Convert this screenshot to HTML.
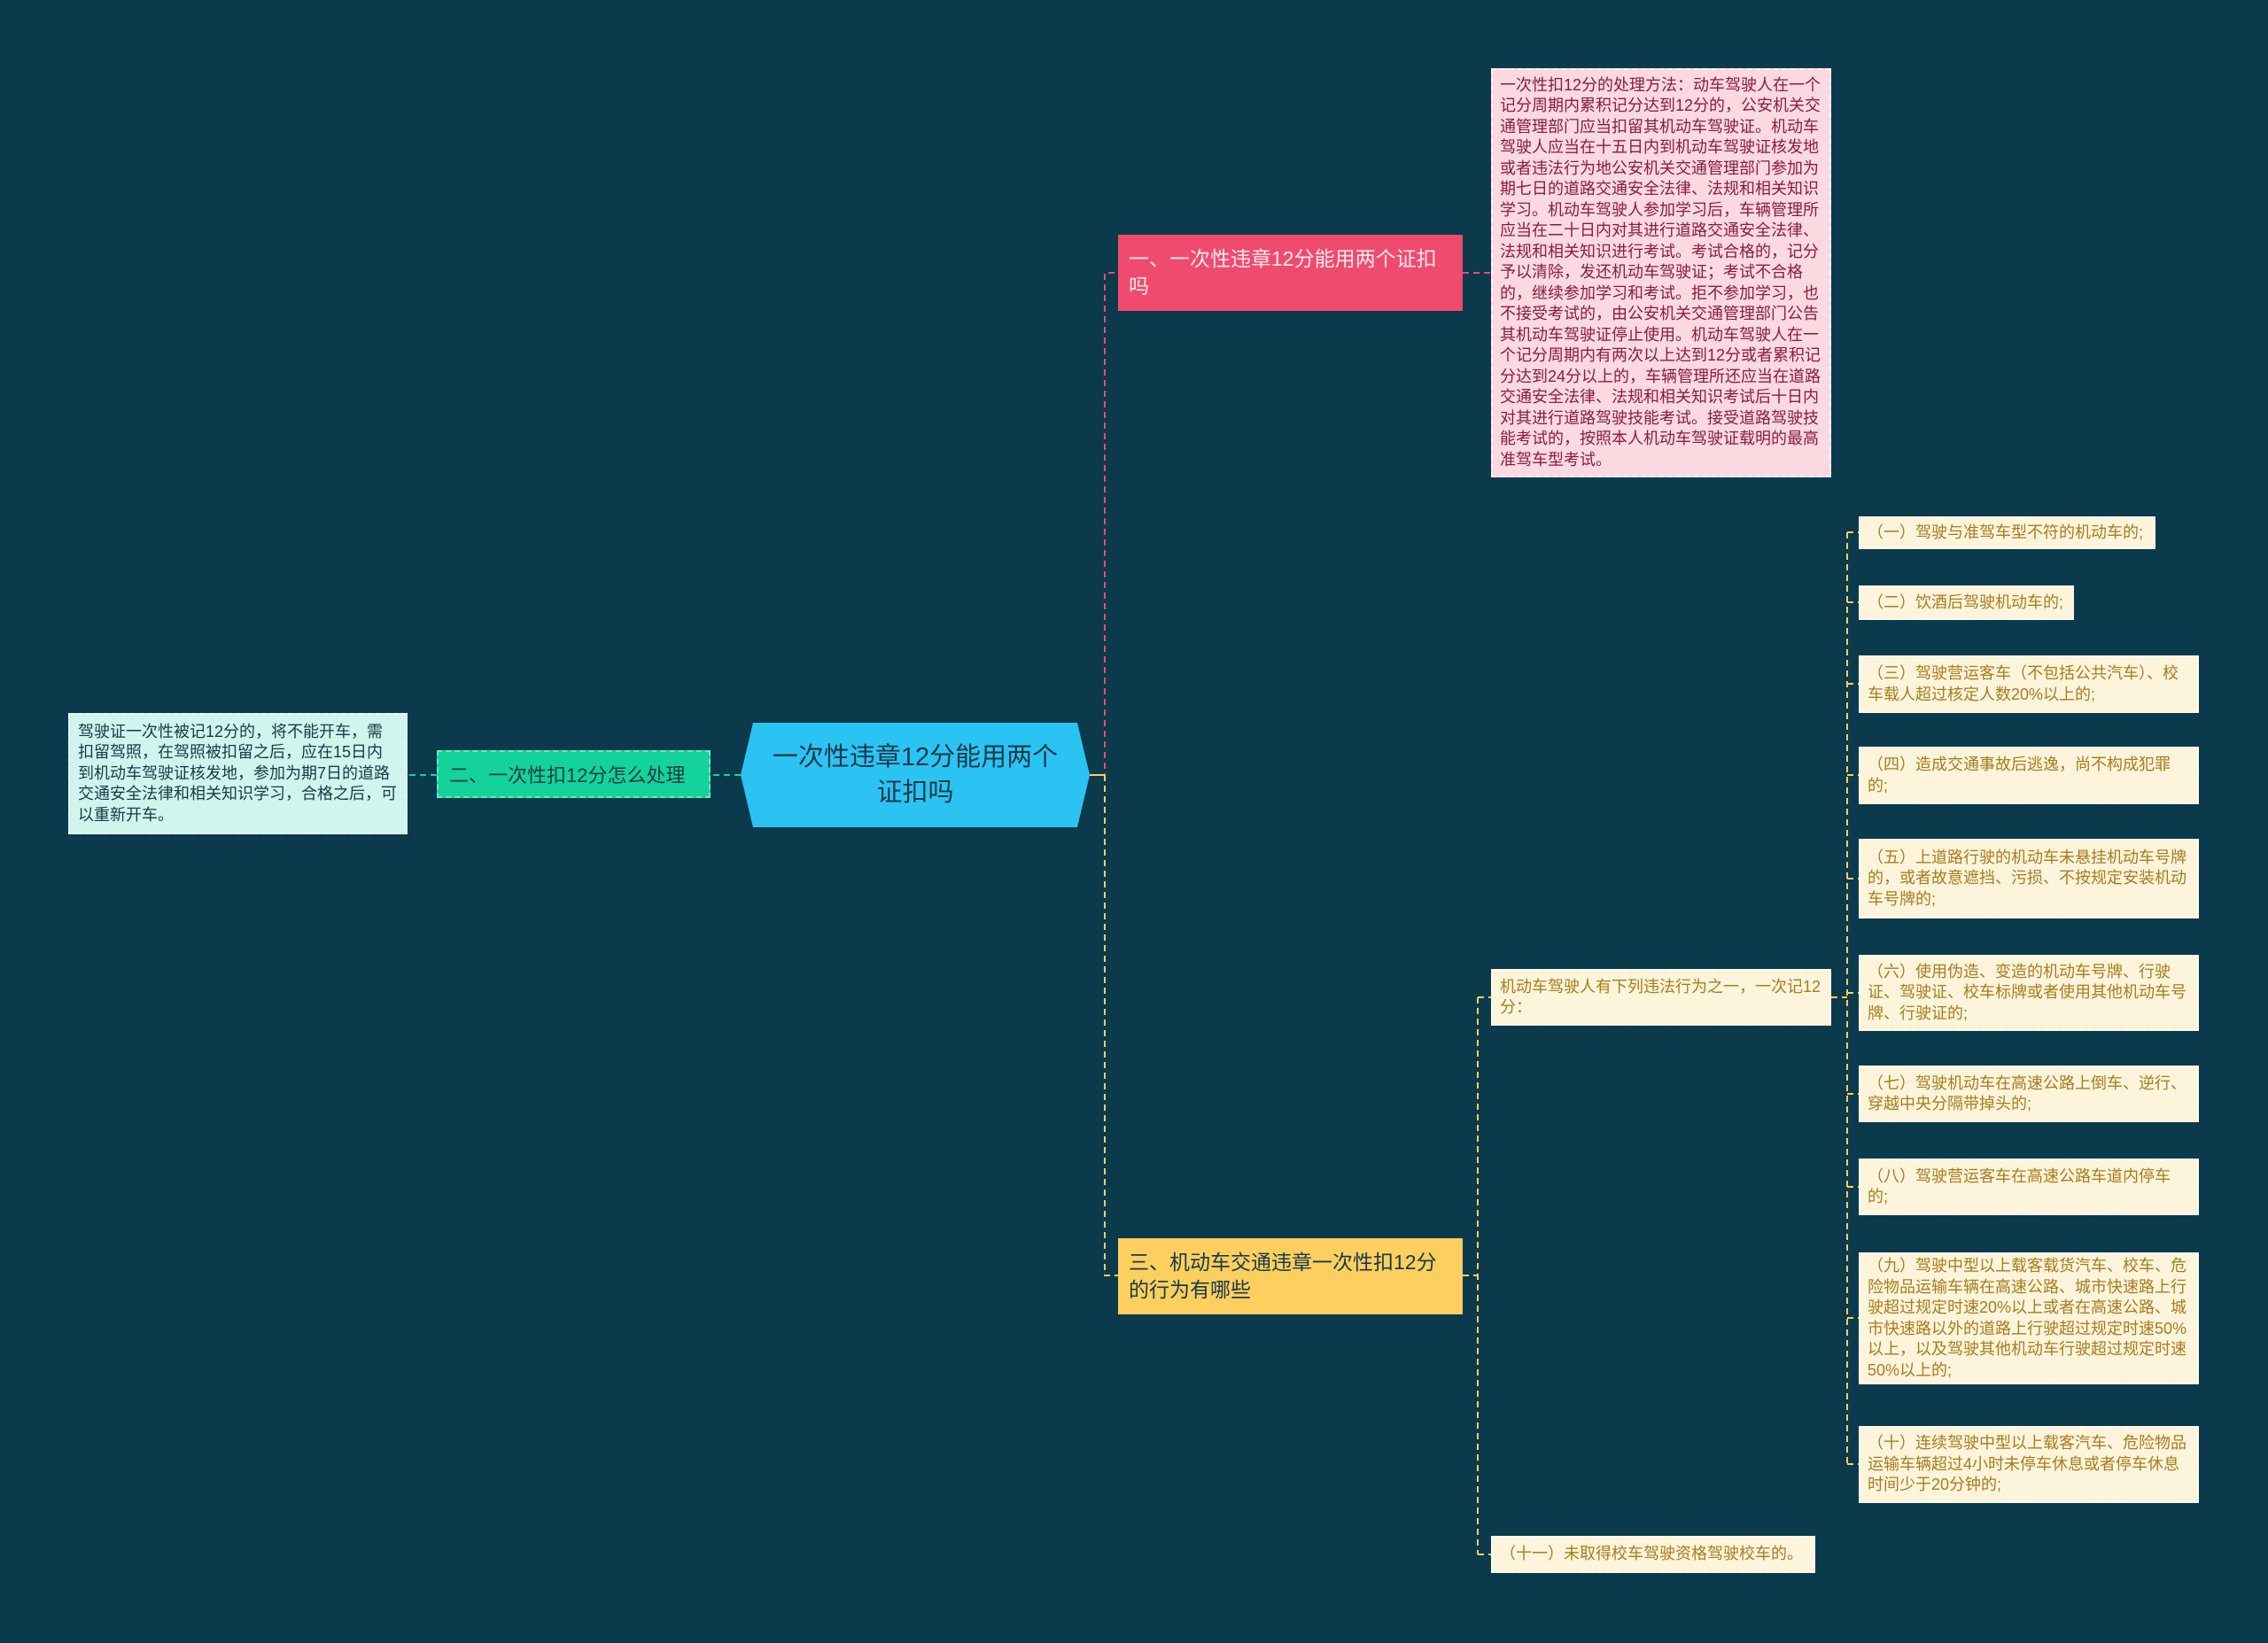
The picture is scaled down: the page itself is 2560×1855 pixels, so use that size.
<!DOCTYPE html>
<html><head><meta charset="utf-8"><style>
body{margin:0;width:2560px;height:1855px;background:#0a3a4c;position:relative;overflow:hidden;font-family:"Liberation Sans","Noto Sans CJK SC",sans-serif}
.n{position:absolute;box-sizing:border-box;display:flex;align-items:center}
.leaf{font-size:18px;line-height:23.5px;padding:4px 8px;border:2px dashed rgba(255,255,255,.55);word-break:break-all}
.y{background:#fdf4dc;color:#a67d1c}
svg{position:absolute;left:0;top:0}
</style></head><body>
<svg width="2560" height="1855" fill="none" stroke-width="2" stroke-dasharray="7,5">
<path d="M1230 875 H1247 V308 H1262" stroke="#ef4b6e"/>
<path d="M1247 875 V1440 H1262" stroke="#fdcf5f"/>
<path d="M1230 875 H1247" stroke="#fdcf5f" stroke-dasharray="none"/>
<path d="M1651 308 H1683" stroke="#ef4b6e"/>
<path d="M836 875 H802" stroke="#14d39a"/>
<path d="M493 875 H460" stroke="#14d39a"/>
<path d="M1651 1440 H1668 M1668 1126 V1755 M1668 1126 H1683 M1668 1755 H1683" stroke="#fdcf5f"/>
<path d="M2067 1126 H2085 M2085 601 V1653 M2085 601 H2098 M2085 680 H2098 M2085 772 H2098 M2085 875 H2098 M2085 992 H2098 M2085 1121 H2098 M2085 1235 H2098 M2085 1340 H2098 M2085 1488 H2098 M2085 1653 H2098" stroke="#fdcf5f"/>
</svg>

<svg width="2560" height="1855"><polygon points="850,816 1216,816 1230,875 1216,934 850,934 836,875" fill="#2bc4f2"/></svg>
<div class="n" style="left:850px;top:816px;width:366px;height:118px;justify-content:center;text-align:center;font-size:29px;line-height:40px;color:#17394a">一次性违章12分能用两个<br>证扣吗</div>

<div class="n" style="left:493px;top:847px;width:309px;height:54px;background:#14d39a;color:#17394a;font-size:22px;padding-left:12px;border:2px dashed rgba(255,255,255,.4)">二、一次性扣12分怎么处理</div>
<div class="n leaf" style="left:77px;top:805px;width:383px;height:137px;background:#cff5ec;color:#17394a;padding-left:9px;padding-right:9px">驾驶证一次性被记12分的，将不能开车，需扣留驾照，在驾照被扣留之后，应在15日内到机动车驾驶证核发地，参加为期7日的道路交通安全法律和相关知识学习，合格之后，可以重新开车。</div>

<div class="n" style="left:1262px;top:265px;width:389px;height:86px;background:#ef4b6e;color:#fde8ee;font-size:23px;line-height:31px;padding:0 12px 0 12px">一、一次性违章12分能用两个证扣<br>吗</div>
<div class="n leaf" style="left:1683px;top:77px;width:384px;height:462px;background:#fbd9e0;color:#8a1c3c">一次性扣12分的处理方法：动车驾驶人在一个记分周期内累积记分达到12分的，公安机关交通管理部门应当扣留其机动车驾驶证。机动车驾驶人应当在十五日内到机动车驾驶证核发地或者违法行为地公安机关交通管理部门参加为期七日的道路交通安全法律、法规和相关知识学习。机动车驾驶人参加学习后，车辆管理所应当在二十日内对其进行道路交通安全法律、法规和相关知识进行考试。考试合格的，记分予以清除，发还机动车驾驶证；考试不合格的，继续参加学习和考试。拒不参加学习，也不接受考试的，由公安机关交通管理部门公告其机动车驾驶证停止使用。机动车驾驶人在一个记分周期内有两次以上达到12分或者累积记分达到24分以上的，车辆管理所还应当在道路交通安全法律、法规和相关知识考试后十日内对其进行道路驾驶技能考试。接受道路驾驶技能考试的，按照本人机动车驾驶证载明的最高准驾车型考试。</div>

<div class="n" style="left:1262px;top:1398px;width:389px;height:86px;background:#fdcf5f;color:#17394a;font-size:23px;line-height:31px;padding:0 12px">三、机动车交通违章一次性扣12分<br>的行为有哪些</div>
<div class="n leaf y" style="left:1683px;top:1094px;width:384px;height:64px">机动车驾驶人有下列违法行为之一，一次记12分：</div>
<div class="n leaf y" style="left:1683px;top:1734px;width:366px;height:42px">（十一）未取得校车驾驶资格驾驶校车的。</div>

<div class="n leaf y" style="left:2098px;top:583px;width:335px;height:37px">（一）驾驶与准驾车型不符的机动车的;</div>
<div class="n leaf y" style="left:2098px;top:661px;width:243px;height:39px">（二）饮酒后驾驶机动车的;</div>
<div class="n leaf y" style="left:2098px;top:740px;width:384px;height:65px">（三）驾驶营运客车（不包括公共汽车）、校车载人超过核定人数20%以上的;</div>
<div class="n leaf y" style="left:2098px;top:843px;width:384px;height:65px">（四）造成交通事故后逃逸，尚不构成犯罪的;</div>
<div class="n leaf y" style="left:2098px;top:947px;width:384px;height:90px">（五）上道路行驶的机动车未悬挂机动车号牌的，或者故意遮挡、污损、不按规定安装机动车号牌的;</div>
<div class="n leaf y" style="left:2098px;top:1078px;width:384px;height:86px">（六）使用伪造、变造的机动车号牌、行驶证、驾驶证、校车标牌或者使用其他机动车号牌、行驶证的;</div>
<div class="n leaf y" style="left:2098px;top:1203px;width:384px;height:64px">（七）驾驶机动车在高速公路上倒车、逆行、穿越中央分隔带掉头的;</div>
<div class="n leaf y" style="left:2098px;top:1308px;width:384px;height:64px">（八）驾驶营运客车在高速公路车道内停车的;</div>
<div class="n leaf y" style="left:2098px;top:1414px;width:384px;height:149px">（九）驾驶中型以上载客载货汽车、校车、危险物品运输车辆在高速公路、城市快速路上行驶超过规定时速20%以上或者在高速公路、城市快速路以外的道路上行驶超过规定时速50%以上，以及驾驶其他机动车行驶超过规定时速50%以上的;</div>
<div class="n leaf y" style="left:2098px;top:1610px;width:384px;height:87px">（十）连续驾驶中型以上载客汽车、危险物品运输车辆超过4小时未停车休息或者停车休息时间少于20分钟的;</div>
</body></html>
